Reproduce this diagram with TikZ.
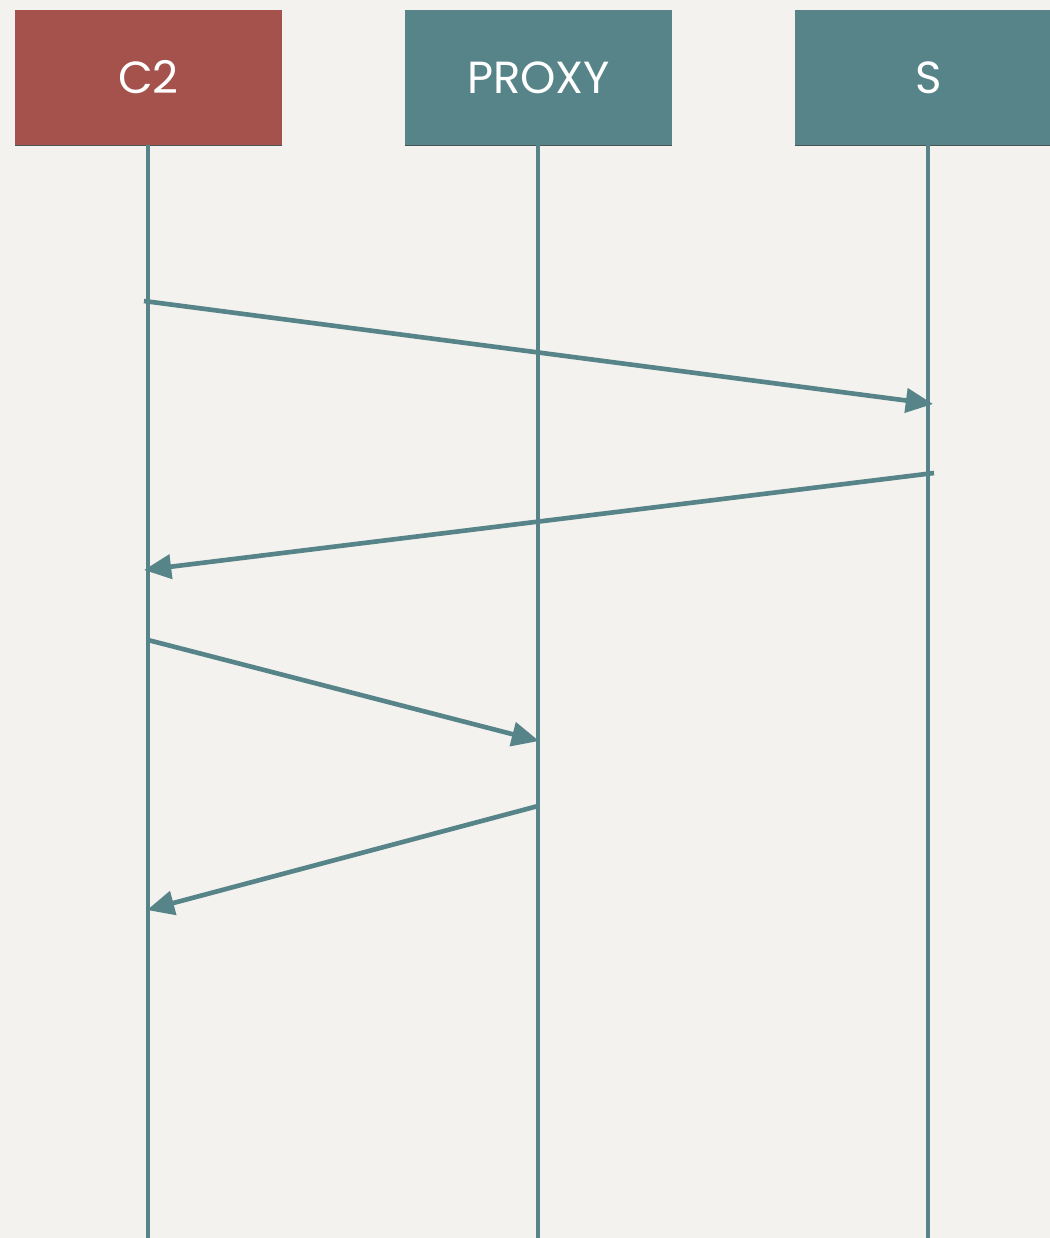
\documentclass[tikz,border=0pt]{standalone}
\usepackage{fontspec}
\setmainfont{Poppins}
\usetikzlibrary{arrows.meta}
\definecolor{paper-bg}{HTML}{F3F2EE}
\definecolor{actor-red}{HTML}{A5524C}
\definecolor{actor-teal}{HTML}{568489}
\definecolor{actor-edge}{HTML}{4A5556}

\tikzset{
  actor/.style={minimum width=267*0.025cm, minimum height=135*0.025cm,
    inner sep=0pt, text=white, font=\fontsize{32}{38}\selectfont},
  lifeline/.style={draw=actor-teal, line width=3.3pt},
  msg/.style={draw=actor-teal, line width=3.3pt,
    -{Triangle[length=0.68cm, width=0.6cm]}}
}

\begin{document}
\begin{tikzpicture}[x=0.025cm, y=-0.025cm]
  \useasboundingbox (0,0) rectangle (1050,1238);
  \fill[paper-bg] (0,0) rectangle (1050,1238);

  % actors
  \node[actor, fill=actor-red] (c2) at (148.5, 77.5) {C2};
  \node[actor, fill=actor-teal] (proxy) at (538.5, 77.5) {PROXY};
  \node[actor, fill=actor-teal] (s) at (928.5, 77.5) {S};
  \foreach \a in {c2,proxy,s} {
    \draw[actor-edge, line width=0.8pt] (\a.south west) -- (\a.south east);
  }

  % lifelines
  \coordinate (c2end) at (148, 1240);
  \coordinate (proxyend) at (538, 1240);
  \coordinate (send) at (928, 1240);
  \draw[lifeline] (c2.south -| c2end) -- (c2end);
  \draw[lifeline] (proxy.south -| proxyend) -- (proxyend);
  \draw[lifeline] (s.south -| send) -- (send);

  % messages
  \coordinate (m1a) at (144, 301);
  \coordinate (m1b) at (933, 404);
  \coordinate (m2a) at (934, 473);
  \coordinate (m2b) at (144, 570);
  \coordinate (m3a) at (148, 640);
  \coordinate (m3b) at (539, 741);
  \coordinate (m4a) at (538, 806);
  \coordinate (m4b) at (147, 910);
  \draw[msg] (m1a) -- (m1b);
  \draw[msg] (m2a) -- (m2b);
  \draw[msg] (m3a) -- (m3b);
  \draw[msg] (m4a) -- (m4b);
\end{tikzpicture}
\end{document}
